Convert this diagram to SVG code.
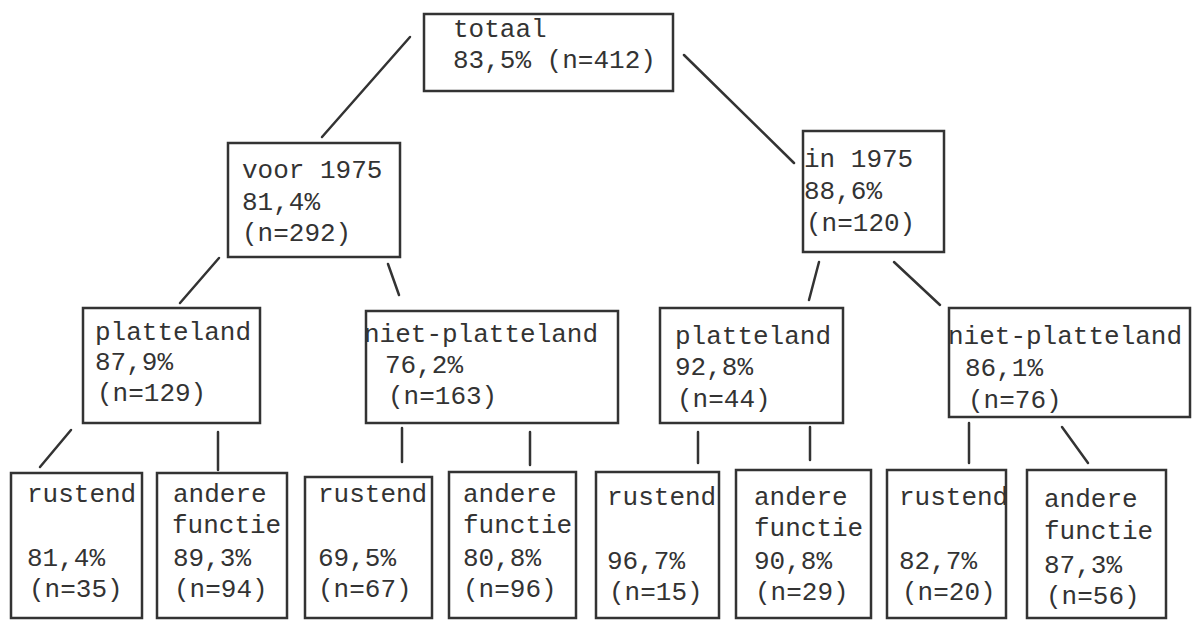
<svg xmlns="http://www.w3.org/2000/svg" width="1193" height="622" viewBox="0 0 1193 622">
<style>
  .box { fill: #ffffff; stroke: #333333; stroke-width: 2.5; }
  .t { font-family: "Liberation Mono", "DejaVu Sans Mono", monospace; font-size: 26px; fill: #333333; }
  .c line { stroke: #333333; stroke-width: 2.5; stroke-linecap: round; }
</style>
<rect x="0" y="0" width="1193" height="622" fill="#ffffff"/>
<g id="connectors" class="c">
  <line x1="410" y1="37" x2="322" y2="137"/>
  <line x1="684" y1="55" x2="794" y2="163"/>
  <line x1="219" y1="258" x2="180" y2="303"/>
  <line x1="388" y1="264" x2="399" y2="295"/>
  <line x1="819" y1="262" x2="809" y2="300"/>
  <line x1="894" y1="262" x2="940" y2="305"/>
  <line x1="71" y1="430" x2="40" y2="467"/>
  <line x1="218" y1="432" x2="218" y2="470"/>
  <line x1="402" y1="428" x2="402" y2="462"/>
  <line x1="530" y1="432" x2="530" y2="465"/>
  <line x1="698" y1="432" x2="698" y2="463"/>
  <line x1="810" y1="427" x2="810" y2="460"/>
  <line x1="969" y1="423" x2="969" y2="463"/>
  <line x1="1062" y1="427" x2="1088" y2="463"/>
</g>
<g id="totaal">
  <rect class="box" x="424" y="14" width="249" height="77"/>
  <text class="t" x="453" y="37">totaal</text>
  <text class="t" x="453" y="68">83,5% (n=412)</text>
</g>
<g id="voor1975">
  <rect class="box" x="228" y="143" width="172" height="114"/>
  <text class="t" x="242" y="178">voor 1975</text>
  <text class="t" x="242" y="210">81,4%</text>
  <text class="t" x="242" y="241">(n=292)</text>
</g>
<g id="in1975">
  <rect class="box" x="803" y="131" width="141" height="121"/>
  <text class="t" x="804" y="167">in 1975</text>
  <text class="t" x="804" y="199">88,6%</text>
  <text class="t" x="806" y="231">(n=120)</text>
</g>
<g id="platteland1">
  <rect class="box" x="83" y="308" width="177" height="115"/>
  <text class="t" x="95" y="340">platteland</text>
  <text class="t" x="95" y="370">87,9%</text>
  <text class="t" x="97" y="401">(n=129)</text>
</g>
<g id="nietplatteland1">
  <rect class="box" x="366" y="311" width="252" height="112"/>
  <text class="t" x="364" y="342">niet-platteland</text>
  <text class="t" x="385" y="373">76,2%</text>
  <text class="t" x="388" y="404">(n=163)</text>
</g>
<g id="platteland2">
  <rect class="box" x="660" y="308" width="183" height="115"/>
  <text class="t" x="675" y="344">platteland</text>
  <text class="t" x="675" y="375">92,8%</text>
  <text class="t" x="677" y="407">(n=44)</text>
</g>
<g id="nietplatteland2">
  <rect class="box" x="949" y="308" width="241" height="109"/>
  <text class="t" x="948" y="344">niet-platteland</text>
  <text class="t" x="965" y="376">86,1%</text>
  <text class="t" x="968" y="408">(n=76)</text>
</g>
<g id="rustend1">
  <rect class="box" x="11" y="473" width="131" height="145"/>
  <text class="t" x="27" y="502">rustend</text>
  <text class="t" x="27" y="566">81,4%</text>
  <text class="t" x="29" y="597">(n=35)</text>
</g>
<g id="andere1">
  <rect class="box" x="157" y="473" width="130" height="145"/>
  <text class="t" x="173" y="502">andere</text>
  <text class="t" x="172" y="533">functie</text>
  <text class="t" x="173" y="566">89,3%</text>
  <text class="t" x="174" y="597">(n=94)</text>
</g>
<g id="rustend2">
  <rect class="box" x="305" y="477" width="127" height="141"/>
  <text class="t" x="318" y="502">rustend</text>
  <text class="t" x="318" y="566">69,5%</text>
  <text class="t" x="318" y="597">(n=67)</text>
</g>
<g id="andere2">
  <rect class="box" x="449" y="472" width="127" height="146"/>
  <text class="t" x="463" y="502">andere</text>
  <text class="t" x="463" y="533">functie</text>
  <text class="t" x="463" y="566">80,8%</text>
  <text class="t" x="463" y="597">(n=96)</text>
</g>
<g id="rustend3">
  <rect class="box" x="596" y="472" width="123" height="146"/>
  <text class="t" x="607" y="505">rustend</text>
  <text class="t" x="607" y="569">96,7%</text>
  <text class="t" x="609" y="600">(n=15)</text>
</g>
<g id="andere3">
  <rect class="box" x="736" y="470" width="135" height="148"/>
  <text class="t" x="754" y="505">andere</text>
  <text class="t" x="754" y="536">functie</text>
  <text class="t" x="754" y="569">90,8%</text>
  <text class="t" x="755" y="600">(n=29)</text>
</g>
<g id="rustend4">
  <rect class="box" x="887" y="470" width="119" height="148"/>
  <text class="t" x="899" y="505">rustend</text>
  <text class="t" x="899" y="569">82,7%</text>
  <text class="t" x="902" y="600">(n=20)</text>
</g>
<g id="andere4">
  <rect class="box" x="1027" y="470" width="139" height="148"/>
  <text class="t" x="1044" y="507">andere</text>
  <text class="t" x="1044" y="539">functie</text>
  <text class="t" x="1044" y="573">87,3%</text>
  <text class="t" x="1046" y="604">(n=56)</text>
</g>
</svg>
